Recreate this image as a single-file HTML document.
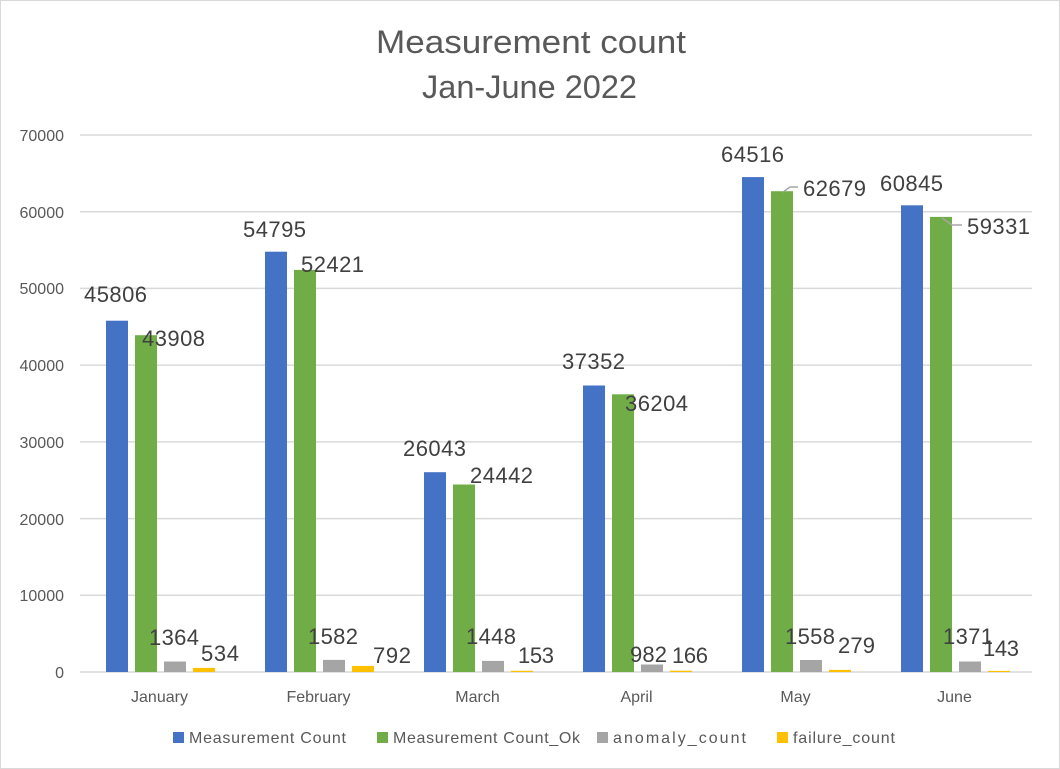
<!DOCTYPE html>
<html><head><meta charset="utf-8"><style>
html,body{margin:0;padding:0;background:#fff}
svg{display:block}
text{font-family:"Liberation Sans",sans-serif}
</style></head><body>
<svg width="1060" height="769" viewBox="0 0 1060 769" xmlns="http://www.w3.org/2000/svg">
<rect x="0.5" y="0.5" width="1059" height="768" fill="#fff" stroke="#d9d9d9"/>
<g fill="#595959" font-size="32">
<text x="376" y="53" textLength="310" lengthAdjust="spacingAndGlyphs">Measurement count</text>
<text x="422" y="98" textLength="215" lengthAdjust="spacingAndGlyphs">Jan-June 2022</text>
</g>
<g stroke="#d9d9d9" stroke-width="1.5">
<line x1="80" x2="1032" y1="135" y2="135"/>
<line x1="80" x2="1032" y1="211.7" y2="211.7"/>
<line x1="80" x2="1032" y1="288.4" y2="288.4"/>
<line x1="80" x2="1032" y1="365.1" y2="365.1"/>
<line x1="80" x2="1032" y1="441.9" y2="441.9"/>
<line x1="80" x2="1032" y1="518.6" y2="518.6"/>
<line x1="80" x2="1032" y1="595.3" y2="595.3"/>
<line x1="80" x2="1032" y1="672" y2="672"/>
</g>
<g fill="#595959" font-size="16" text-anchor="end">
<text x="64" y="141">70000</text>
<text x="64" y="218">60000</text>
<text x="64" y="294">50000</text>
<text x="64" y="371">40000</text>
<text x="64" y="448">30000</text>
<text x="64" y="525">20000</text>
<text x="64" y="601">10000</text>
<text x="64" y="678">0</text>
</g>
<g>
<rect x="106" y="320.7" width="22" height="351.3" fill="#4472c4"/>
<rect x="135" y="335.2" width="22" height="336.8" fill="#70ad47"/>
<rect x="164" y="661.5" width="22" height="10.5" fill="#a5a5a5"/>
<rect x="193" y="667.9" width="22" height="4.1" fill="#ffc000"/>
<rect x="265" y="251.7" width="22" height="420.3" fill="#4472c4"/>
<rect x="294" y="269.9" width="22" height="402.1" fill="#70ad47"/>
<rect x="323" y="659.9" width="22" height="12.1" fill="#a5a5a5"/>
<rect x="352" y="665.9" width="22" height="6.1" fill="#ffc000"/>
<rect x="424" y="472.2" width="22" height="199.8" fill="#4472c4"/>
<rect x="453" y="484.5" width="22" height="187.5" fill="#70ad47"/>
<rect x="482" y="660.9" width="22" height="11.1" fill="#a5a5a5"/>
<rect x="511" y="670.8" width="22" height="1.2" fill="#ffc000"/>
<rect x="583" y="385.5" width="22" height="286.5" fill="#4472c4"/>
<rect x="612" y="394.3" width="22" height="277.7" fill="#70ad47"/>
<rect x="641" y="664.5" width="22" height="7.5" fill="#a5a5a5"/>
<rect x="670" y="670.7" width="22" height="1.3" fill="#ffc000"/>
<rect x="742" y="177.1" width="22" height="494.9" fill="#4472c4"/>
<rect x="771" y="191.2" width="22" height="480.8" fill="#70ad47"/>
<rect x="800" y="660.0" width="22" height="12.0" fill="#a5a5a5"/>
<rect x="829" y="669.9" width="22" height="2.1" fill="#ffc000"/>
<rect x="901" y="205.3" width="22" height="466.7" fill="#4472c4"/>
<rect x="930" y="216.9" width="22" height="455.1" fill="#70ad47"/>
<rect x="959" y="661.5" width="22" height="10.5" fill="#a5a5a5"/>
<rect x="988" y="670.9" width="22" height="1.1" fill="#ffc000"/>
</g>
<g stroke="#a6a6a6" stroke-width="1.5" fill="none">
<polyline points="783,192 790,187 798,187"/>
<polyline points="942,218 952,225 962,225"/>
</g>
<g fill="#404040" font-size="22" lengthAdjust="spacingAndGlyphs">
<text x="84" y="302" textLength="63">45806</text>
<text x="142" y="346" textLength="63">43908</text>
<text x="149" y="645" textLength="50">1364</text>
<text x="201" y="661" textLength="38">534</text>
<text x="243" y="237" textLength="63">54795</text>
<text x="301" y="272" textLength="63">52421</text>
<text x="308" y="644" textLength="50">1582</text>
<text x="373" y="663" textLength="38">792</text>
<text x="403" y="456" textLength="63">26043</text>
<text x="470" y="483" textLength="63">24442</text>
<text x="466" y="644" textLength="50">1448</text>
<text x="518" y="663" textLength="36">153</text>
<text x="562" y="369" textLength="63">37352</text>
<text x="625" y="411" textLength="63">36204</text>
<text x="630" y="662" textLength="37">982</text>
<text x="672" y="663" textLength="36">166</text>
<text x="721" y="162" textLength="63">64516</text>
<text x="803" y="196" textLength="63">62679</text>
<text x="785" y="644" textLength="50">1558</text>
<text x="838" y="653" textLength="37">279</text>
<text x="880" y="191" textLength="63">60845</text>
<text x="967" y="234" textLength="63">59331</text>
<text x="943" y="644" textLength="50">1371</text>
<text x="983" y="656" textLength="36">143</text>
</g>
<g fill="#595959" font-size="16" text-anchor="middle">
<text x="159.5" y="702">January</text>
<text x="318.5" y="702">February</text>
<text x="477.5" y="702">March</text>
<text x="636.5" y="702">April</text>
<text x="795.5" y="702">May</text>
<text x="954.5" y="702">June</text>
</g>
<g font-size="16" fill="#595959" lengthAdjust="spacingAndGlyphs">
<rect x="173" y="732" width="11" height="11" fill="#4472c4"/>
<text x="189" y="743" textLength="157">Measurement Count</text>
<rect x="377" y="732" width="11" height="11" fill="#70ad47"/>
<text x="393" y="743" textLength="187">Measurement Count_Ok</text>
<rect x="597" y="732" width="11" height="11" fill="#a5a5a5"/>
<text x="613" y="743" textLength="133">anomaly_count</text>
<rect x="777" y="732" width="11" height="11" fill="#ffc000"/>
<text x="793" y="743" textLength="102">failure_count</text>
</g>
</svg>
</body></html>
